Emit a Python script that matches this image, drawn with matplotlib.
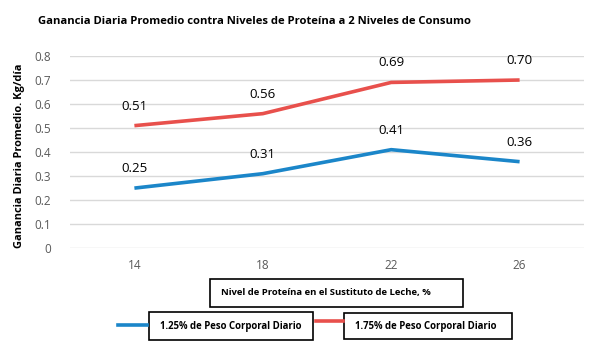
import matplotlib.pyplot as plt
from matplotlib.patches import Rectangle
from matplotlib.lines import Line2D

categories = ['14', '18', '22', '26']
low_intake = [0.25, 0.31, 0.41, 0.36]
high_intake = [0.51, 0.56, 0.69, 0.70]
low_label = '1.25% de Peso Corporal Diario'
high_label = '1.75% de Peso Corporal Diario'

blue = '#1b86c9'
red = '#e8504c'

plt.rcParams['font.family'] = ['Open Sans', 'DejaVu Sans']

fig = plt.figure(figsize=(6, 3.5), dpi=100)
fig.patch.set_facecolor('white')
ax = fig.add_axes([0.117, 0.291, 0.856, 0.549])

x = range(len(categories))
ax.plot(x, low_intake, color=blue, lw=2.6, solid_capstyle='butt')
ax.plot(x, high_intake, color=red, lw=2.6, solid_capstyle='butt')

for xi, v in zip(x, low_intake):
    ax.annotate(f'{v:.2f}', (xi, v), xytext=(0, 14), textcoords='offset points',
                ha='center', va='center', fontsize=9.5, color='black')
for xi, v in zip(x, high_intake):
    ax.annotate(f'{v:.2f}', (xi, v), xytext=(0, 14), textcoords='offset points',
                ha='center', va='center', fontsize=9.5, color='black')

ax.set_xlim(-0.5, 3.5)
ax.set_ylim(0, 0.8)
ax.set_yticks([0, 0.1, 0.2, 0.3, 0.4, 0.5, 0.6, 0.7, 0.8])
ax.set_yticklabels(['0', '0.1', '0.2', '0.3', '0.4', '0.5', '0.6', '0.7', '0.8'])
ax.set_xticks(list(x))
ax.set_xticklabels(categories)
ax.tick_params(length=0, labelsize=8.5, labelcolor='#595959')
ax.tick_params(axis='y', pad=14)
ax.tick_params(axis='x', pad=8)
ax.grid(axis='y', color='#d9d9d9', lw=1)
ax.set_axisbelow(True)
for s in ax.spines.values():
    s.set_visible(False)

fig.text(255 / 600, 0.94, 'Ganancia Diaria Promedio contra Niveles de Proteína a 2 Niveles de Consumo',
         ha='center', va='center', fontsize=8.1, fontweight='bold')
fig.text(0.032, 0.555, 'Ganancia Diaria Promedio. Kg/día', rotation=90,
         ha='center', va='center', fontsize=7.9, fontweight='bold')

# x-axis title box
fig.add_artist(Rectangle((210 / 600, 1 - 307 / 350), 253 / 600, 28 / 350,
                         transform=fig.transFigure, fill=False, ec='black', lw=1.2))
fig.text(221 / 600, 1 - 293 / 350, 'Nivel de Proteína en el Sustituto de Leche, %',
         ha='left', va='center', fontsize=6.8, fontweight='bold')

# legend
fig.add_artist(Line2D([118 / 600, 147 / 600], [1 - 325 / 350] * 2,
                      transform=fig.transFigure, color=blue, lw=2.6))
fig.add_artist(Rectangle((149 / 600, 1 - 340 / 350), 164 / 600, 28 / 350,
                         transform=fig.transFigure, fill=False, ec='black', lw=1.2))
fig.text(160 / 600, 1 - 326 / 350, low_label, ha='left', va='center',
         fontsize=6.9, fontweight='bold')

fig.add_artist(Line2D([316 / 600, 343 / 600], [1 - 321 / 350] * 2,
                      transform=fig.transFigure, color=red, lw=2.6))
fig.add_artist(Rectangle((344 / 600, 1 - 339 / 350), 168 / 600, 26 / 350,
                         transform=fig.transFigure, fill=False, ec='black', lw=1.2))
fig.text(355 / 600, 1 - 326 / 350, high_label, ha='left', va='center',
         fontsize=6.9, fontweight='bold')

fig.savefig('out.png', dpi=100)
